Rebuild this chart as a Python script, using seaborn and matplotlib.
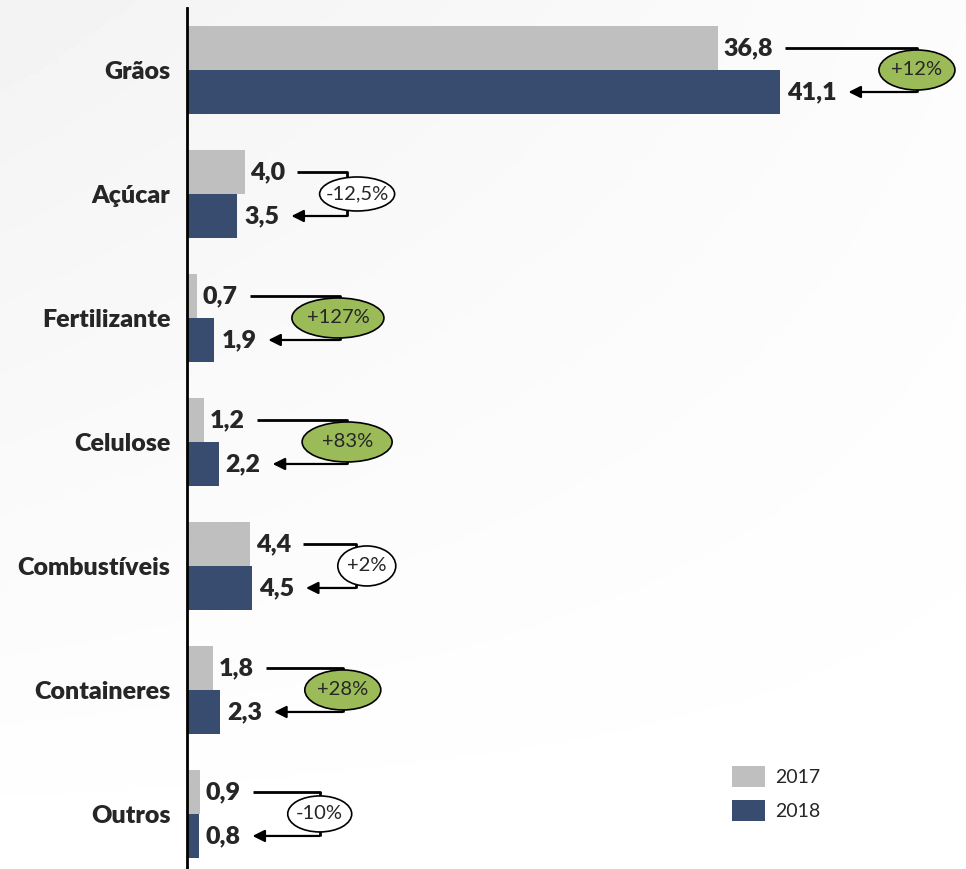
import numpy as np
import pandas as pd
import matplotlib.pyplot as plt
import seaborn as sns
from matplotlib.patches import Ellipse, Patch

categorias = ['Grãos', 'Açúcar', 'Fertilizante', 'Celulose', 'Combustíveis', 'Containeres', 'Outros']
valores_2017 = [36.8, 4.0, 0.7, 1.2, 4.4, 1.8, 0.9]
valores_2018 = [41.1, 3.5, 1.9, 2.2, 4.5, 2.3, 0.8]
variacao = ['+12%', '-12,5%', '+127%', '+83%', '+2%', '+28%', '-10%']
destaque = [True, False, True, True, False, True, False]

# layout of the bracket arrows (data x of the vertical line), ellipse offsets/sizes in px
bracket_x = [50.6, 11.1, 10.6, 11.1, 11.7, 10.8, 9.2]
ellipse_dx = [0, 10, -2, 0, 11, 0, 0]
ellipse_w = [76, 75, 92, 90, 58, 76, 64]
ellipse_h = [40, 34, 40, 40, 40, 40, 36]

cinza = '#BFBFBF'
azul = '#374C6E'
verde = '#9BBB59'

df = pd.DataFrame({
    'categoria': categorias * 2,
    'valor': valores_2017 + valores_2018,
    'ano': ['2017'] * len(categorias) + ['2018'] * len(categorias),
})

sns.set_style('white')
plt.rcParams['font.family'] = ['Lato', 'DejaVu Sans']

fig = plt.figure(figsize=(9.66, 8.69), dpi=100)

# light gradient in the background
bg = fig.add_axes([0, 0, 1, 1], zorder=-10)
gx, gy = np.meshgrid(np.linspace(0, 1, 200), np.linspace(0, 1, 200))
grad = np.clip(1 - 0.6 * (1 - gx) * (1 - gy) - 0.2 * (1 - gy), 0, 1)
bg.imshow(0.94 + 0.06 * grad, cmap='gray', vmin=0, vmax=1, aspect='auto', extent=[0, 1, 0, 1])
bg.axis('off')

ax = fig.add_axes([187 / 966, 0, 779 / 966, 861 / 869])
ax.patch.set_alpha(0)

sns.barplot(data=df, y='categoria', x='valor', hue='ano', orient='h',
            palette=[cinza, azul], width=0.71, ax=ax, saturation=1,
            edgecolor='none', legend=True)

ax.set_xlim(0, 54)
ax.set_ylim(6.444, -0.5)
ax.set_xlabel('')
ax.set_ylabel('')
ax.set_xticks([])
for s in ['top', 'right', 'bottom']:
    ax.spines[s].set_visible(False)
ax.spines['left'].set_color('black')
ax.spines['left'].set_linewidth(2)
ax.tick_params(axis='y', length=0, pad=12)
for t in ax.get_yticklabels():
    t.set_fontsize(18)
    t.set_fontweight('heavy')

ax.get_legend().remove()
handles = [Patch(facecolor=cinza, edgecolor='none'), Patch(facecolor=azul, edgecolor='none')]
ax.legend(handles, ['2017', '2018'], loc='lower left', bbox_to_anchor=(0.6996, 0.0557),
          frameon=False, fontsize=14, handlelength=1.7, handleheight=1.3,
          labelspacing=0.67, handletextpad=0.5, borderpad=0, borderaxespad=0)

off = 0.71 / 4
ppx = 779 / 54.0
ppy = 861 / 6.944

labels = []
for i in range(len(categorias)):
    t1 = ax.annotate(f'{valores_2017[i]:.1f}'.replace('.', ','), (valores_2017[i], i - off),
                     xytext=(4, 0), textcoords='offset points', va='center', ha='left',
                     fontsize=18, fontweight='heavy')
    t2 = ax.annotate(f'{valores_2018[i]:.1f}'.replace('.', ','), (valores_2018[i], i + off),
                     xytext=(5, 0), textcoords='offset points', va='center', ha='left',
                     fontsize=18, fontweight='heavy')
    labels.append((t1, t2))

fig.canvas.draw()
inv = ax.transData.inverted()
for i, (t1, t2) in enumerate(labels):
    e1 = t1.get_window_extent()
    e2 = t2.get_window_extent()
    x1 = inv.transform((e1.x1 + 12, 0))[0]
    x2 = inv.transform((e2.x1 + 12, 0))[0]
    bx = bracket_x[i]
    y1 = i - off
    y2 = i + off
    ax.plot([x1, bx, bx], [y1, y1, y2], color='black', lw=2, solid_capstyle='butt', zorder=3)
    ax.annotate('', xy=(x2, y2), xytext=(bx, y2),
                arrowprops=dict(arrowstyle='-|>', color='black', lw=1.6,
                                mutation_scale=18, shrinkA=0, shrinkB=0), zorder=3)
    cx = bx + ellipse_dx[i] / ppx
    el = Ellipse((cx, i), ellipse_w[i] / ppx, ellipse_h[i] / ppy,
                 facecolor=verde if destaque[i] else 'white', edgecolor='black', lw=1.2, zorder=4)
    ax.add_patch(el)
    ax.text(cx, i, variacao[i], ha='center', va='center', fontsize=14.5, zorder=5)

fig.savefig('out.png', dpi=100)
